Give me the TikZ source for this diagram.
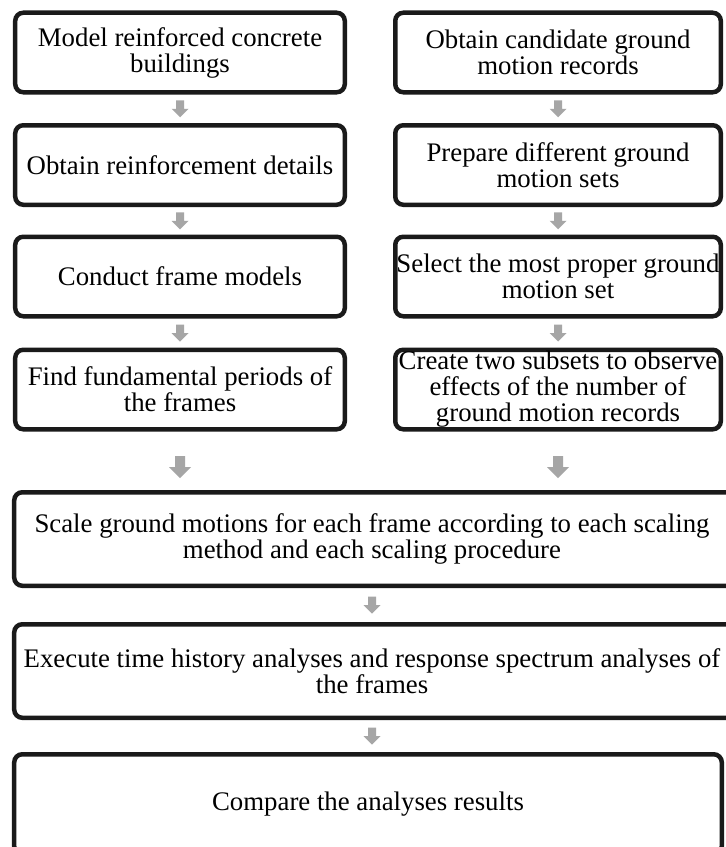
\documentclass[tikz,border=0pt]{standalone}
\usepackage{fontspec}
\setmainfont{Liberation Serif}
\usetikzlibrary{calc}
\definecolor{boxline}{HTML}{1A1A1A}
\definecolor{arrowgray}{HTML}{A6A6A6}
\newcommand{\boxfont}{\fontsize{26.8bp}{26bp}\selectfont}
\begin{document}
\begin{tikzpicture}[x=1bp,y=-1bp,
  boxline/.style={draw=boxline, line width=4.5bp, rounded corners=8bp},
  box/.style={boxline, fill=white,
    inner sep=0pt, outer sep=0pt, align=center, font=\boxfont, rectangle},
  txt/.style={inner sep=0pt, outer sep=0pt, align=center, font=\boxfont, rectangle},
  lbox/.style={box, minimum width=329.5bp, minimum height=79.5bp},
  rbox/.style={box, minimum width=325.5bp, minimum height=79.5bp},
  darrow/.pic={\fill[arrowgray] (-4,-8.5) -- (4,-8.5) -- (4,0) -- (8.5,0) -- (0,8.5) -- (-8.5,0) -- (-4,0) -- cycle;},
  bigarrow/.pic={\fill[arrowgray] (-5,-11) -- (5,-11) -- (5,0) -- (11,0) -- (0,11) -- (-11,0) -- (-5,0) -- cycle;}
]
\clip (0,0) rectangle (726,847);
\fill[white] (0,0) rectangle (726,847);

\node[lbox] (L1) at (180,52.5) {Model reinforced concrete\\buildings};
\node[lbox] (L2) at (180,165) {Obtain reinforcement details};
\node[lbox] (L3) at (180,276.5) {Conduct frame models};
\node[lbox] (L4) at (180,389.5) {Find fundamental periods of\\the frames};

\node[rbox] (R1) at (558,52.5) {Obtain candidate ground\\motion records};
\node[rbox] (R2) at (558,165) {Prepare different ground\\motion sets};
\node[rbox] (R3) at (558,276.5) {Select the most proper ground\\motion set};
\node[rbox] (R4) at (558,389.5) {Create two subsets to observe\\effects of the number of\\ground motion records};

% wide boxes run past the edges of the picture
\node[txt, minimum width=715.5bp, minimum height=93.5bp] (B1) at (372,539)
  {Scale ground motions for each frame according to each scaling\\method and each scaling procedure};
\node[txt, minimum width=715.5bp, minimum height=93.5bp] (B2) at (372,671)
  {Execute time history analyses and response spectrum analyses of\\the frames};
\node[txt, minimum width=707.5bp, minimum height=100bp] (B3) at (368,804.25)
  {\raisebox{3bp}{Compare the analyses results}};

\draw[boxline] (B1.north west) rectangle ($(B1.south east)+(25,0)$);
\draw[boxline] (B2.north west) rectangle ($(B2.south east)+(25,0)$);
\draw[boxline] (B3.north west) rectangle (B3.south east);

\path ($(L1.south)!0.5!(L2.north)$) pic {darrow};
\path ($(L2.south)!0.5!(L3.north)$) pic {darrow};
\path ($(L3.south)!0.5!(L4.north)$) pic {darrow};
\path ($(R1.south)!0.5!(R2.north)$) pic {darrow};
\path ($(R2.south)!0.5!(R3.north)$) pic {darrow};
\path ($(R3.south)!0.5!(R4.north)$) pic {darrow};
\path ($(L4.south)!0.6!(L4.south |- B1.north)$) pic {bigarrow};
\path ($(R4.south)!0.6!(R4.south |- B1.north)$) pic {bigarrow};
\path ($(B1.south)!0.5!(B2.north)$) pic {darrow};
\path ($(B2.south)!0.5!(B2.south |- B3.north)$) pic {darrow};
\end{tikzpicture}
\end{document}
